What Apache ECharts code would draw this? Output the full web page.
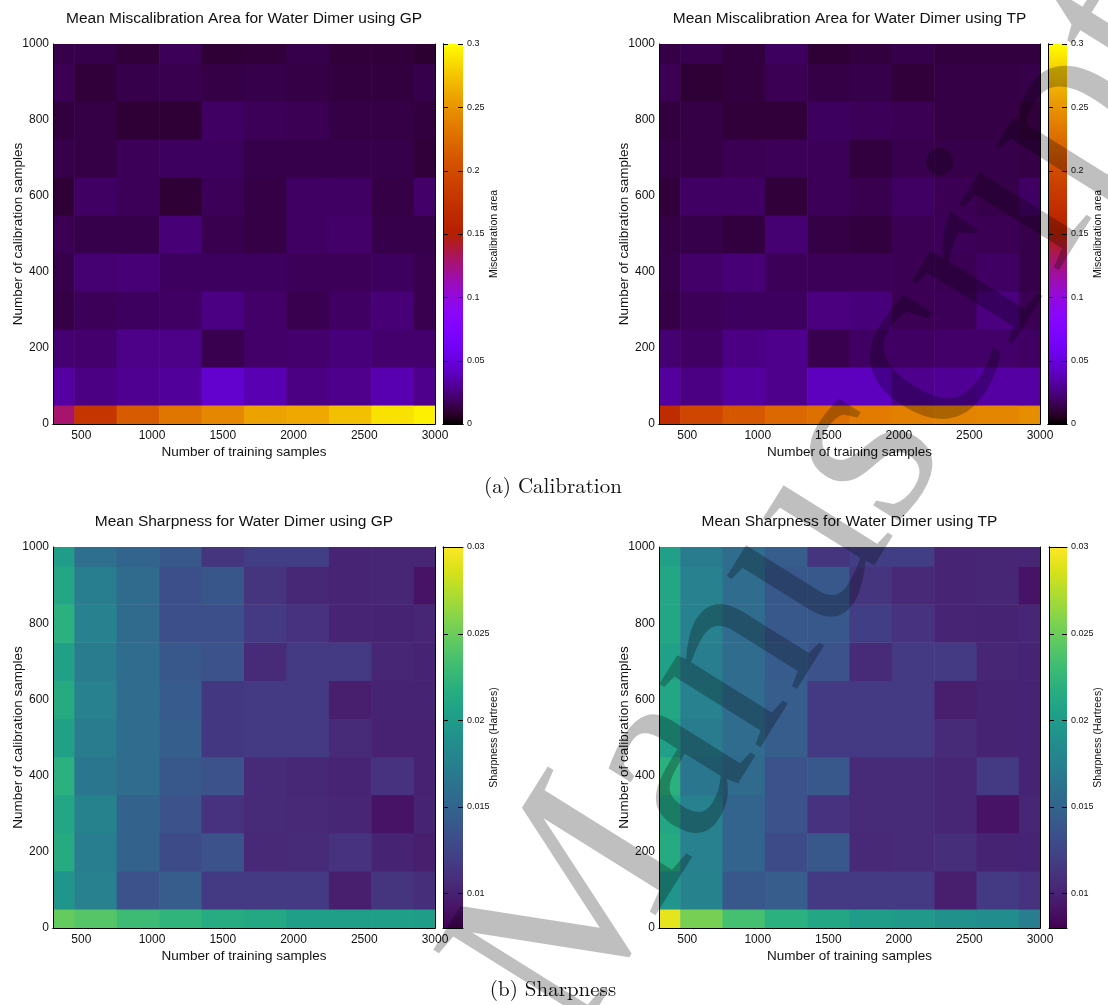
<!DOCTYPE html>
<html>
<head>
<meta charset="utf-8">
<script src="https://cdn.jsdelivr.net/npm/echarts@6/dist/echarts.min.js"></script>
<style>html,body{margin:0;padding:0;background:#fff}#c{width:1108px;height:1005px}</style>
</head>
<body>
<div id="c"></div>
<script>
// ---------- data ----------
const trainSizes = [300, 600, 900, 1200, 1500, 1800, 2100, 2400, 2700, 3000];
const calibSizes = [0, 100, 200, 300, 400, 500, 600, 700, 800, 900, 1000];
const xTickValues = [500, 1000, 1500, 2000, 2500, 3000];
const yTickValues = [0, 200, 400, 600, 800, 1000];
const miscalTicks = [0, 0.05, 0.1, 0.15, 0.2, 0.25, 0.3];
const miscalTickLabels = ['0', '0.05', '0.1', '0.15', '0.2', '0.25', '0.3'];
const sharpTicks = [0.01, 0.015, 0.02, 0.025, 0.03];
const sharpTickLabels = ['0.01', '0.015', '0.02', '0.025', '0.03'];

// rows: calibration samples 0..1000, columns: training samples 300..3000
const miscalGP = [
  [0.129, 0.177, 0.213, 0.231, 0.243, 0.258, 0.261, 0.273, 0.288, 0.294],
  [0.033, 0.026, 0.029, 0.031, 0.045, 0.037, 0.026, 0.028, 0.036, 0.028],
  [0.022, 0.021, 0.027, 0.027, 0.015, 0.020, 0.021, 0.024, 0.021, 0.021],
  [0.013, 0.017, 0.018, 0.019, 0.026, 0.020, 0.015, 0.019, 0.023, 0.015],
  [0.014, 0.022, 0.023, 0.018, 0.018, 0.018, 0.017, 0.017, 0.018, 0.015],
  [0.016, 0.014, 0.014, 0.023, 0.015, 0.013, 0.019, 0.020, 0.014, 0.014],
  [0.010, 0.019, 0.017, 0.010, 0.017, 0.013, 0.019, 0.019, 0.013, 0.020],
  [0.014, 0.013, 0.017, 0.018, 0.018, 0.014, 0.014, 0.014, 0.014, 0.011],
  [0.012, 0.013, 0.010, 0.010, 0.019, 0.017, 0.016, 0.013, 0.013, 0.012],
  [0.016, 0.011, 0.014, 0.015, 0.013, 0.014, 0.013, 0.012, 0.012, 0.014],
  [0.014, 0.014, 0.011, 0.017, 0.010, 0.011, 0.014, 0.011, 0.011, 0.009]
];
const miscalTP = [
  [0.168, 0.195, 0.210, 0.222, 0.228, 0.235, 0.238, 0.240, 0.242, 0.246],
  [0.032, 0.026, 0.032, 0.028, 0.040, 0.040, 0.028, 0.030, 0.033, 0.033],
  [0.022, 0.019, 0.026, 0.028, 0.015, 0.019, 0.019, 0.020, 0.020, 0.019],
  [0.013, 0.017, 0.018, 0.018, 0.025, 0.024, 0.016, 0.017, 0.025, 0.016],
  [0.014, 0.020, 0.023, 0.017, 0.017, 0.017, 0.016, 0.016, 0.019, 0.014],
  [0.013, 0.014, 0.012, 0.022, 0.013, 0.012, 0.016, 0.017, 0.016, 0.014],
  [0.011, 0.019, 0.019, 0.011, 0.017, 0.015, 0.019, 0.016, 0.014, 0.019],
  [0.013, 0.013, 0.016, 0.017, 0.017, 0.012, 0.015, 0.014, 0.014, 0.013],
  [0.012, 0.013, 0.011, 0.011, 0.018, 0.017, 0.016, 0.013, 0.013, 0.011],
  [0.016, 0.010, 0.012, 0.016, 0.013, 0.014, 0.011, 0.013, 0.013, 0.014],
  [0.013, 0.015, 0.012, 0.018, 0.010, 0.012, 0.014, 0.012, 0.012, 0.012]
];
const sharpGP = [
  [0.0247, 0.0241, 0.0230, 0.0223, 0.0216, 0.0212, 0.0203, 0.0203, 0.0203, 0.0201],
  [0.0194, 0.0175, 0.0135, 0.0144, 0.0117, 0.0117, 0.0117, 0.0098, 0.0113, 0.0108],
  [0.0215, 0.0172, 0.0148, 0.0130, 0.0135, 0.0105, 0.0106, 0.0111, 0.0101, 0.0098],
  [0.0210, 0.0177, 0.0148, 0.0135, 0.0111, 0.0106, 0.0105, 0.0103, 0.0091, 0.0101],
  [0.0219, 0.0166, 0.0157, 0.0140, 0.0135, 0.0106, 0.0104, 0.0102, 0.0111, 0.0100],
  [0.0205, 0.0170, 0.0157, 0.0145, 0.0115, 0.0117, 0.0117, 0.0106, 0.0100, 0.0100],
  [0.0215, 0.0175, 0.0157, 0.0142, 0.0115, 0.0117, 0.0117, 0.0098, 0.0101, 0.0101],
  [0.0205, 0.0170, 0.0157, 0.0140, 0.0135, 0.0106, 0.0117, 0.0117, 0.0103, 0.0101],
  [0.0219, 0.0175, 0.0155, 0.0133, 0.0133, 0.0117, 0.0111, 0.0102, 0.0101, 0.0103],
  [0.0210, 0.0172, 0.0155, 0.0133, 0.0138, 0.0113, 0.0104, 0.0102, 0.0103, 0.0091],
  [0.0201, 0.0159, 0.0150, 0.0140, 0.0113, 0.0120, 0.0120, 0.0102, 0.0103, 0.0103]
];
const sharpTP = [
  [0.0291, 0.0254, 0.0234, 0.0219, 0.0210, 0.0201, 0.0197, 0.0190, 0.0186, 0.0172],
  [0.0194, 0.0177, 0.0140, 0.0144, 0.0117, 0.0117, 0.0117, 0.0098, 0.0117, 0.0111],
  [0.0215, 0.0175, 0.0150, 0.0130, 0.0140, 0.0105, 0.0106, 0.0108, 0.0101, 0.0101],
  [0.0210, 0.0175, 0.0150, 0.0135, 0.0111, 0.0106, 0.0106, 0.0103, 0.0091, 0.0103],
  [0.0219, 0.0166, 0.0155, 0.0135, 0.0140, 0.0106, 0.0106, 0.0103, 0.0117, 0.0101],
  [0.0205, 0.0170, 0.0157, 0.0144, 0.0117, 0.0117, 0.0117, 0.0106, 0.0101, 0.0101],
  [0.0210, 0.0175, 0.0157, 0.0144, 0.0117, 0.0117, 0.0117, 0.0098, 0.0101, 0.0101],
  [0.0205, 0.0172, 0.0157, 0.0142, 0.0135, 0.0106, 0.0117, 0.0117, 0.0103, 0.0101],
  [0.0210, 0.0175, 0.0157, 0.0140, 0.0140, 0.0120, 0.0111, 0.0102, 0.0101, 0.0103],
  [0.0210, 0.0175, 0.0157, 0.0140, 0.0140, 0.0113, 0.0105, 0.0102, 0.0103, 0.0091],
  [0.0205, 0.0170, 0.0157, 0.0144, 0.0113, 0.0120, 0.0120, 0.0102, 0.0103, 0.0103]
];

// ---------- palettes ----------
function gnuplotColor(t) {
  const r = Math.sqrt(t), g = t * t * t, b = Math.max(0, Math.sin(2 * Math.PI * t));
  return 'rgb(' + Math.round(255 * r) + ',' + Math.round(255 * g) + ',' + Math.round(255 * b) + ')';
}
const miscalPalette = Array.from({length: 61}, (_, i) => gnuplotColor(i / 60));
const viridisPalette = ['#440154','#48186a','#472d7b','#424086','#3b528b','#33638d','#2c728e','#26828e',
  '#21918c','#1fa088','#28ae80','#3fbc73','#5ec962','#84d44b','#addc30','#d8e219','#fde725'];

function cells(matrix) {
  const out = [];
  matrix.forEach((row, j) => row.forEach((v, i) => out.push([trainSizes[i], calibSizes[j], v])));
  return out;
}

const FONT = '"Liberation Sans", Arial, Helvetica, sans-serif';
const TXT = '#111';

const panels = [
  {grid: {left: 53, top: 44, width: 382, height: 380}, bar: {left: 443, top: 44, width: 20, height: 380},
   title: 'Mean Miscalibration Area for Water Dimer using GP', data: miscalGP, palette: miscalPalette,
   min: 0, max: 0.3, ticks: miscalTicks, tickLabels: miscalTickLabels, barName: 'Miscalibration area'},
  {grid: {left: 659, top: 44, width: 381, height: 380}, bar: {left: 1048, top: 44, width: 19, height: 380},
   title: 'Mean Miscalibration Area for Water Dimer using TP', data: miscalTP, palette: miscalPalette,
   min: 0, max: 0.3, ticks: miscalTicks, tickLabels: miscalTickLabels, barName: 'Miscalibration area'},
  {grid: {left: 53, top: 547, width: 382, height: 381}, bar: {left: 443, top: 547, width: 20, height: 381},
   title: 'Mean Sharpness for Water Dimer using GP', data: sharpGP, palette: viridisPalette,
   min: 0.008, max: 0.03, ticks: sharpTicks, tickLabels: sharpTickLabels, barName: 'Sharpness (Hartrees)'},
  {grid: {left: 659, top: 547, width: 381, height: 381}, bar: {left: 1049, top: 547, width: 18, height: 381},
   title: 'Mean Sharpness for Water Dimer using TP', data: sharpTP, palette: viridisPalette,
   min: 0.008, max: 0.03, ticks: sharpTicks, tickLabels: sharpTickLabels, barName: 'Sharpness (Hartrees)'}
];

const halfX = (trainSizes[1] - trainSizes[0]) / 2;
const halfY = (calibSizes[1] - calibSizes[0]) / 2;
const xMin = trainSizes[0], xMax = trainSizes[trainSizes.length - 1];
const yMin = calibSizes[0], yMax = calibSizes[calibSizes.length - 1];

function cellItem(params, api) {
  const x = api.value(0), y = api.value(1);
  const a = api.coord([Math.max(x - halfX, xMin), Math.min(y + halfY, yMax)]);
  const b = api.coord([Math.min(x + halfX, xMax), Math.max(y - halfY, yMin)]);
  return {type: 'rect', shape: {x: a[0], y: a[1], width: b[0] - a[0] + 0.6, height: b[1] - a[1] + 0.6},
    style: {fill: api.visual('color')}};
}
// colour bar: gradient rect plus inward ticks on both edges
function barItem(palette, ticks) {
  const stops = palette.map((c, i) => ({offset: i / (palette.length - 1), color: c}));
  return function (params, api) {
    const a = api.coord([0, api.value(2)]);
    const b = api.coord([1, api.value(1)]);
    const children = [{type: 'rect', shape: {x: a[0], y: a[1], width: b[0] - a[0], height: b[1] - a[1]},
      style: {fill: new echarts.graphic.LinearGradient(0, 1, 0, 0, stops)}}];
    ticks.forEach(t => {
      const l = api.coord([0, t]), r = api.coord([1, t]);
      const y = Math.round(l[1]) + 0.5;
      children.push({type: 'line', shape: {x1: l[0], y1: y, x2: l[0] + 5, y2: y}, style: {stroke: '#000', lineWidth: 1}});
      children.push({type: 'line', shape: {x1: r[0] - 5, y1: y, x2: r[0], y2: y}, style: {stroke: '#000', lineWidth: 1}});
    });
    return {type: 'group', children};
  };
}

const grids = [], xAxes = [], yAxes = [], series = [], visualMaps = [], graphics = [];
const lineOnly = {show: true, lineStyle: {color: '#000', width: 1}};

panels.forEach((p, k) => {
  const gi = grids.length;
  grids.push(Object.assign({outerBoundsMode: 'none'}, p.grid));
  grids.push(Object.assign({outerBoundsMode: 'none'}, p.bar));
  const xi = xAxes.length, yi = yAxes.length;
  // main plot axes
  xAxes.push({gridIndex: gi, type: 'value', min: xMin, max: xMax, position: 'bottom', z: 10,
    name: 'Number of training samples', nameLocation: 'middle', nameGap: 21, nameMoveOverlap: false,
    nameTextStyle: {fontFamily: FONT, fontSize: 13.5, color: TXT},
    axisLine: lineOnly, axisTick: {show: false}, splitLine: {show: false},
    axisLabel: {customValues: xTickValues, fontFamily: FONT, fontSize: 12, color: TXT, margin: 6,
      formatter: v => String(v)}});
  xAxes.push({gridIndex: gi, type: 'value', min: xMin, max: xMax, position: 'top', z: 10,
    axisLine: lineOnly, axisTick: {show: false}, splitLine: {show: false}, axisLabel: {show: false}});
  yAxes.push({gridIndex: gi, type: 'value', min: yMin, max: yMax, interval: 200, position: 'left', z: 10,
    name: 'Number of calibration samples', nameLocation: 'middle', nameGap: 28, nameMoveOverlap: false,
    nameTextStyle: {fontFamily: FONT, fontSize: 13.5, color: TXT},
    axisLine: lineOnly, axisTick: {show: false}, splitLine: {show: false},
    axisLabel: {customValues: yTickValues, fontFamily: FONT, fontSize: 12, color: TXT, margin: 4,
      formatter: v => String(v)}});
  yAxes.push({gridIndex: gi, type: 'value', min: yMin, max: yMax, position: 'right', z: 10,
    axisLine: lineOnly, axisTick: {show: false}, splitLine: {show: false}, axisLabel: {show: false}});
  // colour bar axes
  xAxes.push({gridIndex: gi + 1, type: 'value', min: 0, max: 1, position: 'bottom', z: 10,
    axisLine: lineOnly, axisTick: {show: false}, splitLine: {show: false}, axisLabel: {show: false}});
  xAxes.push({gridIndex: gi + 1, type: 'value', min: 0, max: 1, position: 'top', z: 10,
    axisLine: lineOnly, axisTick: {show: false}, splitLine: {show: false}, axisLabel: {show: false}});
  yAxes.push({gridIndex: gi + 1, type: 'value', min: p.min, max: p.max, position: 'right', z: 10,
    name: p.barName, nameLocation: 'middle', nameGap: 26, nameMoveOverlap: false,
    nameTextStyle: {fontFamily: FONT, fontSize: 10.5, color: TXT},
    axisLine: lineOnly, splitLine: {show: false}, axisTick: {show: false},
    axisLabel: {customValues: p.ticks, fontFamily: FONT, fontSize: 9, color: TXT, margin: 4,
      formatter: v => p.tickLabels[p.ticks.findIndex(t => Math.abs(t - v) < 1e-9)] ?? ''}});
  yAxes.push({gridIndex: gi + 1, type: 'value', min: p.min, max: p.max, position: 'left', z: 10,
    axisLine: lineOnly, splitLine: {show: false}, axisLabel: {show: false}, axisTick: {show: false}});

  const si = series.length;
  series.push({type: 'custom', xAxisIndex: xi, yAxisIndex: yi, renderItem: cellItem, clip: true,
    encode: {x: 0, y: 1}, data: cells(p.data), silent: true});
  series.push({type: 'custom', xAxisIndex: xi + 2, yAxisIndex: yi + 2, renderItem: barItem(p.palette, p.ticks),
    data: [[0, p.min, p.max]], silent: true});
  visualMaps.push({type: 'continuous', show: false, seriesIndex: si, dimension: 2,
    min: p.min, max: p.max, inRange: {color: p.palette}});

  graphics.push({type: 'text', x: p.grid.left + p.grid.width / 2, y: p.grid.top - 25,
    style: {text: p.title, font: '15.5px ' + FONT, fill: TXT, align: 'center', verticalAlign: 'middle',
      textAlign: 'center', textVerticalAlign: 'middle'}});
});

const captions = [
  {text: '(a) Calibration', x: 553, y: 487},
  {text: '(b) Sharpness', x: 553, y: 990}
];
captions.forEach(c => graphics.push({type: 'text', x: c.x, y: c.y,
  style: {text: c.text, font: '21px "Latin Modern Roman", "Liberation Serif", "DejaVu Serif", serif', fill: '#111',
    align: 'center', verticalAlign: 'middle', textAlign: 'center', textVerticalAlign: 'middle'}}));

// "Manuscript" watermark
graphics.push({type: 'text', x: 626, y: 1079, rotation: 58 * Math.PI / 180, z: 100, silent: true,
  style: {text: 'Manuscript', font: '260px "Liberation Serif", "DejaVu Serif", serif',
    fill: 'rgba(0,0,0,0.25)', align: 'left', verticalAlign: 'bottom', textAlign: 'left', textVerticalAlign: 'bottom'}});

const chart = echarts.init(document.getElementById('c'), null, {renderer: 'canvas'});
chart.setOption({
  animation: false,
  backgroundColor: '#fff',
  grid: grids,
  xAxis: xAxes,
  yAxis: yAxes,
  visualMap: visualMaps,
  series: series,
  graphic: {elements: graphics}
});
</script>
</body>
</html>
